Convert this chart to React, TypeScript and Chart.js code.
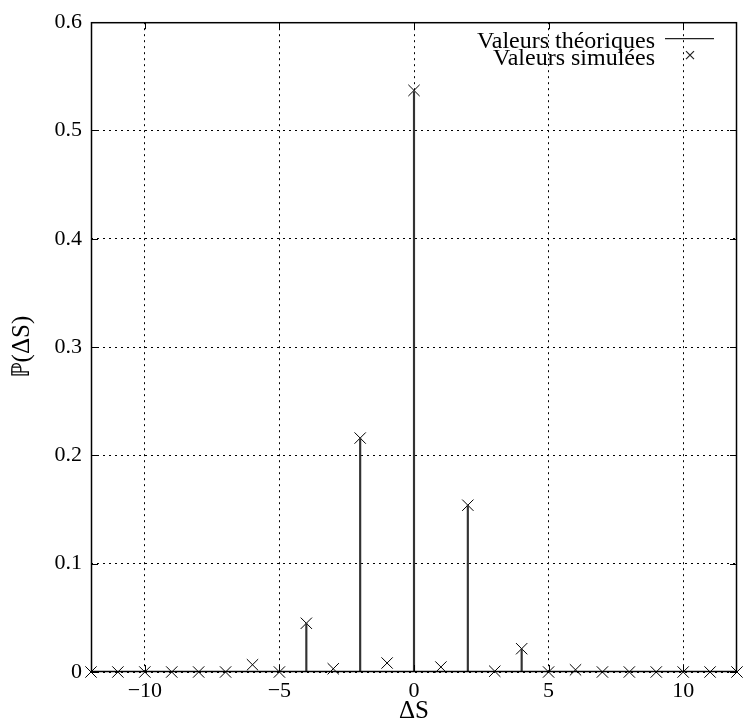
import React, { useEffect, useRef } from 'react';
import { Chart, registerables } from 'chart.js';

Chart.register(...registerables);

// ---- data ----
const deltaS = [-12, -11, -10, -9, -8, -7, -6, -5, -4, -3, -2, -1, 0, 1, 2, 3, 4, 5, 6, 7, 8, 9, 10, 11, 12];
const simulated = [0, 0, 0, 0, 0, 0, 0.0067, 0, 0.045, 0.003, 0.216, 0.0083, 0.537, 0.0046, 0.154, 0.0007, 0.0215, 0, 0.002, 0, 0, 0, 0, 0, 0];
const theoryX = [-4, -2, 0, 2, 4];
const theoryY = [0.045, 0.216, 0.536, 0.154, 0.0215];
const xTickValues = [-10, -5, 0, 5, 10];
const yTickValues = [0, 0.1, 0.2, 0.3, 0.4, 0.5, 0.6];
const legendLabels = ['Valeurs théoriques', 'Valeurs simulées'];
const xTitle = 'ΔS';
const yTitle = 'ℙ(ΔS)';

const FONT = "'Liberation Serif', 'Times New Roman', serif";

const framePlugin = {
  id: 'frame',
  afterDraw(chart: any) {
    const { ctx, chartArea: a, scales } = chart;
    const x = scales.x;
    const y = scales.y;
    ctx.save();
    ctx.strokeStyle = '#000';
    ctx.lineWidth = 1.5;
    ctx.strokeRect(a.left + 0.5, a.top + 0.5, a.right - a.left - 1, a.bottom - a.top - 1);
    const L = 7;
    ctx.lineWidth = 1;
    ctx.beginPath();
    xTickValues.forEach((v) => {
      const px = Math.round(x.getPixelForValue(v)) + 0.5;
      ctx.moveTo(px, a.bottom);
      ctx.lineTo(px, a.bottom - L);
      ctx.moveTo(px, a.top);
      ctx.lineTo(px, a.top + L);
    });
    yTickValues.forEach((v) => {
      const py = Math.round(y.getPixelForValue(v)) + 0.5;
      ctx.moveTo(a.left, py);
      ctx.lineTo(a.left + L, py);
      ctx.moveTo(a.right, py);
      ctx.lineTo(a.right - L, py);
    });
    ctx.stroke();

    // legend
    const textRight = a.right - 82;
    ctx.font = `24px ${FONT}`;
    ctx.fillStyle = '#000';
    ctx.textAlign = 'right';
    ctx.textBaseline = 'alphabetic';
    ctx.fillText(legendLabels[0], textRight, a.top + 26);
    ctx.fillText(legendLabels[1], textRight, a.top + 43);
    ctx.strokeStyle = '#222';
    ctx.lineWidth = 1.2;
    ctx.beginPath();
    ctx.moveTo(textRight + 10, a.top + 16.5);
    ctx.lineTo(textRight + 59, a.top + 16.5);
    const cx = textRight + 35;
    const cy = a.top + 33;
    const r = 4;
    ctx.moveTo(cx - r, cy - r);
    ctx.lineTo(cx + r, cy + r);
    ctx.moveTo(cx - r, cy + r);
    ctx.lineTo(cx + r, cy - r);
    ctx.stroke();
    ctx.restore();
  },
};

export default function App() {
  const ref = useRef<HTMLCanvasElement | null>(null);

  useEffect(() => {
    document.body.style.margin = '0';
    const canvas = ref.current;
    if (!canvas) return;
    const chart = new Chart(canvas, {
      type: 'scatter',
      data: {
        datasets: [
          {
            type: 'bar',
            label: legendLabels[0],
            data: theoryX.map((v, i) => ({ x: v, y: theoryY[i] })),
            backgroundColor: '#333',
            borderWidth: 0,
            barThickness: 1.5,
            grouped: false,
          } as any,
          {
            type: 'scatter',
            label: legendLabels[1],
            data: deltaS.map((v, i) => ({ x: v, y: simulated[i] })),
            pointStyle: 'crossRot',
            radius: 8,
            borderColor: '#000',
            borderWidth: 1,
            clip: false,
          } as any,
        ],
      },
      options: {
        animation: false,
        responsive: false,
        layout: { padding: { top: 20, right: 1, left: 0, bottom: 0 } },
        plugins: { legend: { display: false }, tooltip: { enabled: false } },
        scales: {
          x: {
            type: 'linear',
            min: -12,
            max: 12,
            offset: false,
            afterBuildTicks: (s: any) => {
              s.ticks = xTickValues.map((v) => ({ value: v }));
            },
            afterFit: (s: any) => {
              s.height = 50;
            },
            ticks: {
              padding: 6,
              color: '#000',
              font: { family: FONT, size: 22 },
              maxRotation: 0,
              callback: (v: any) => (v < 0 ? '−' + Math.abs(v) : String(v)),
            },
            grid: { color: '#000', lineWidth: 1, drawTicks: false, offset: false },
            border: { display: false, dash: [2, 4] },
            title: {
              display: true,
              text: xTitle,
              color: '#000',
              font: { family: FONT, size: 25, lineHeight: 1 },
              padding: { top: 0, bottom: -2 },
            },
          },
          y: {
            type: 'linear',
            min: 0,
            max: 0.6,
            afterBuildTicks: (s: any) => {
              s.ticks = yTickValues.map((v) => ({ value: v }));
            },
            afterFit: (s: any) => {
              s.width = 91;
            },
            ticks: {
              padding: 9,
              color: '#000',
              font: { family: FONT, size: 22 },
              callback: (v: any) => (v === 0 ? '0' : Number(v).toFixed(1)),
            },
            grid: { color: '#000', lineWidth: 1, drawTicks: false },
            border: { display: false, dash: [2, 4] },
            title: {
              display: true,
              text: yTitle,
              color: '#000',
              font: { family: FONT, size: 25, lineHeight: 1 },
              padding: { top: 10, bottom: 0 },
            },
          },
        },
      },
      plugins: [framePlugin],
    });
    return () => chart.destroy();
  }, []);

  return (
    <div style={{ width: 746, height: 722 }}>
      <canvas ref={ref} width={746} height={722} style={{ display: 'block' }} />
    </div>
  );
}
